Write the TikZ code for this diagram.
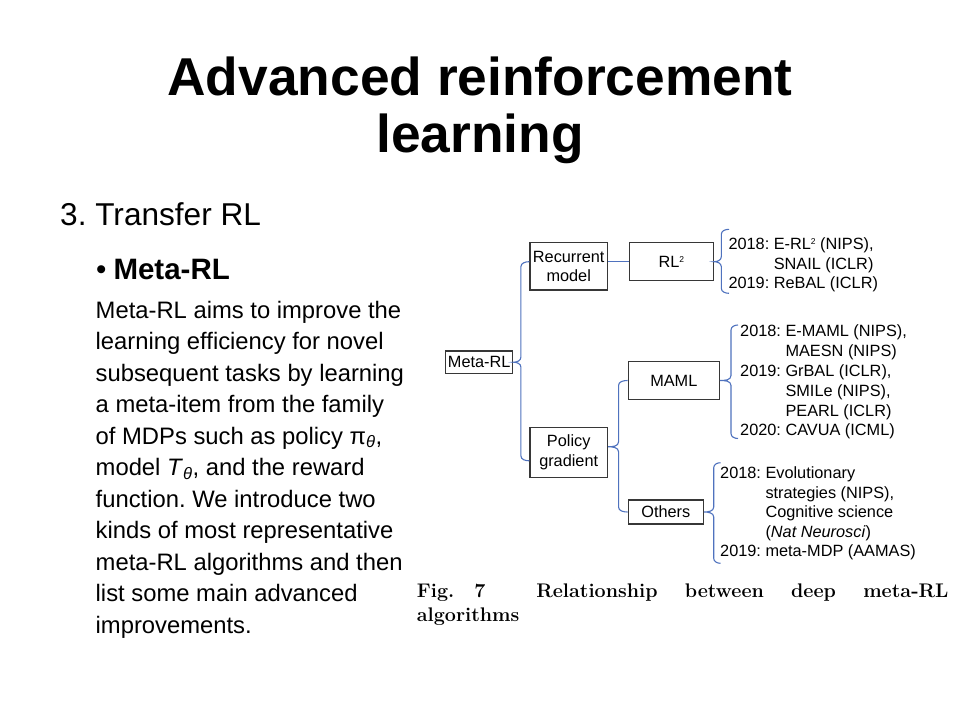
\documentclass[tikz,border=0pt]{standalone}
\usepackage{fontspec}
\newfontfamily\arial{Liberation Sans}
\usetikzlibrary{calc}
\frenchspacing
\definecolor{bracec}{RGB}{79,114,190}
\definecolor{boxc}{RGB}{55,55,55}
\newcommand\sqr{\raisebox{5.3pt}{\fontsize{8.5}{9}\selectfont 2}}
\newcommand\drawbrace[4]{%
  \draw[brace] let \p1=(#1), \p2=(#2), \p3=(#3) in
  (\p1) to[out=180,in=90] ({\x3+#4},{\y1-5pt}) -- ({\x3+#4},{\y3+5pt})
  to[out=-90,in=0] (\p3) to[out=0,in=90] ({\x3+#4},{\y3-5pt})
  -- ({\x3+#4},{\y2+5pt}) to[out=-90,in=180] (\p2);}
\begin{document}
\begin{tikzpicture}[x=1pt,y=-1pt,
  box/.style={draw=boxc, line width=1.4pt, inner sep=0pt, align=center,
    font=\arial\fontsize{16.3}{19.5}\selectfont},
  brace/.style={draw=bracec, line width=1.1pt},
  listtxt/.style={anchor=base west, inner sep=0pt,
    font=\arial\fontsize{16.3}{19.5}\selectfont},
  body/.style={anchor=base west, inner sep=0pt,
    font=\arial\fontsize{23.8}{31.5}\selectfont},
  title/.style={anchor=base, inner sep=0pt,
    font=\arial\bfseries\fontsize{53.3}{58}\selectfont},
  captxt/.style={anchor=base west, inner sep=0pt,
    font=\rmfamily\bfseries\fontsize{19.7}{22}\selectfont}]
\useasboundingbox (0,0) rectangle (960,720);
\fill[white] (0,0) rectangle (960,720);

% title
\node[title] (t1) at (480,95) {Advanced reinforcement};
\node[title] (t2) at (480,152.5) {learning};

% left text
\node[anchor=base west, inner sep=0pt, font=\arial\fontsize{31.6}{36}\selectfont] (sec) at (60,225.5) {3. Transfer RL};
\node[anchor=base west, inner sep=0pt, font=\arial\fontsize{29.5}{34}\selectfont] (bul) at (96,279.3) {•};
\node[anchor=base west, inner sep=0pt, font=\arial\bfseries\fontsize{29.5}{34}\selectfont] (sub) at (113.3,279.3) {Meta-RL};

\node[body] (l1) at (95.5,318) {Meta-RL aims to improve the};
\node[body] (l2) at (95.5,349.5) {learning efficiency for novel};
\node[body] (l3) at (95.5,381) {subsequent tasks by learning};
\node[body] (l4) at (95.5,412.5) {a meta-item from the family};
\node[body] (l5) at (95.5,444) {of MDPs such as policy π\textsubscript{\itshape θ},};
\node[body] (l6) at (95.5,475.5) {model \textit{T}\textsubscript{\itshape θ}, and the reward};
\node[body] (l7) at (95.5,507) {function. We introduce two};
\node[body] (l8) at (95.5,538.5) {kinds of most representative};
\node[body] (l9) at (95.5,570) {meta-RL algorithms and then};
\node[body] (l10) at (95.5,601.5) {list some main advanced};
\node[body] (l11) at (95.5,633) {improvements.};

% diagram boxes
\node[box, minimum width=67pt, minimum height=22.3pt] (meta) at (479.2,362.2) {Meta-RL};
\node[box, minimum width=77.3pt, minimum height=47.3pt] (rec) at (568.7,266.3) {Recurrent\\model};
\node[box, minimum width=84pt, minimum height=38pt] (rl2) at (671.3,261.7) {RL\sqr};
\node[box, minimum width=91pt, minimum height=37.6pt] (mam) at (673.8,380.5) {MAML};
\node[box, minimum width=77.3pt, minimum height=50pt] (pg) at (568.7,452.3) {Policy\\gradient};
\node[box, minimum width=75pt, minimum height=24pt] (oth) at (665.8,512) {Others};

% connectors
\drawbrace{rec.west|-rl2.center}{$(pg.west)+(0,8.5)$}{meta.east}{7.5pt}
\drawbrace{mam.west}{oth.west}{$(pg.east)+(0,-5.5)$}{10.5pt}
\draw[brace] (rl2.west) -- (rl2.west -| rec.east);

\coordinate (rlT) at (729,229.3);
\coordinate (rlB) at (729,293.3);
\coordinate (mmT) at (738,325);
\coordinate (mmB) at (738,438.5);
\coordinate (otT) at (720.5,462.7);
\coordinate (otB) at (720.5,563.3);
\drawbrace{rlT}{rlB}{rl2.east}{7.3pt}
\drawbrace{mmT}{mmB}{mam.east}{11pt}
\drawbrace{otT}{otB}{oth.east}{9.7pt}

% lists
\node[listtxt] (r1) at (728.3,249.3) {2018: E-RL\sqr\ (NIPS),};
\node[listtxt] (r2) at (728.3,269) {\phantom{2018: }SNAIL (ICLR)};
\node[listtxt] (r3) at (728.3,288.5) {2019: ReBAL (ICLR)};

\node[listtxt] (m1) at (740,336) {2018: E-MAML (NIPS),};
\node[listtxt] (m2) at (740,356) {\phantom{2018: }MAESN (NIPS)};
\node[listtxt] (m3) at (740,376) {2019: GrBAL (ICLR),};
\node[listtxt] (m4) at (740,396.5) {\phantom{2019: }SMILe (NIPS),};
\node[listtxt] (m5) at (740,416) {\phantom{2019: }PEARL (ICLR)};
\node[listtxt] (m6) at (740,435.5) {2020: CAVUA (ICML)};

\node[listtxt] (o1) at (720,478.3) {2018: Evolutionary};
\node[listtxt] (o2) at (720,498) {\phantom{2018: }strategies (NIPS),};
\node[listtxt] (o3) at (720,517.5) {\phantom{2018: }Cognitive science};
\node[listtxt] (o4) at (720,537) {\phantom{2018: }(\textit{Nat Neurosci})};
\node[listtxt] (o5) at (720,556.7) {2019: meta-MDP (AAMAS)};

% caption
\node[captxt] (cap1) at (416.7,597.7) {\hbox to 531.6pt{Fig.\hskip 20pt 7\hskip 51pt Relationship\hfill between\hfill deep\hfill meta-RL}};
\node[captxt] (cap2) at (416.7,621.7) {algorithms};
\end{tikzpicture}
\end{document}
